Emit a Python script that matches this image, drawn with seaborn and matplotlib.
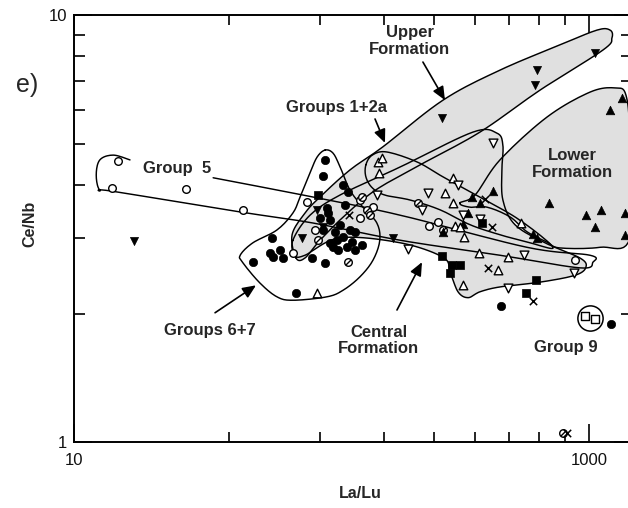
import numpy as np
import matplotlib
matplotlib.use("Agg")
import matplotlib.pyplot as plt
import seaborn as sns
from matplotlib.patches import Polygon
from matplotlib.markers import MarkerStyle
from matplotlib.transforms import Affine2D
from matplotlib.ticker import FixedLocator, FixedFormatter, NullFormatter

# ---------------- data (La/Lu, Ce/Nb) ----------------
fc_lalu = [94.4, 92.7, 110.8, 115.9, 58.7, 49.5, 57.7, 63.1, 64.8, 59.3, 84.0, 94.4, 72.8,
           98.6, 105.0, 110.8, 118.0, 114.8, 123.4, 101.4, 96.0, 90.2, 98.6, 123.4, 92.7,
           107.9, 105.9, 120.2, 103.2, 112.7, 96.9, 131.3, 455, 1217]
fc_cenb = [4.58, 4.20, 4.00, 3.85, 3.01, 2.64, 2.77, 2.82, 2.70, 2.71, 2.70, 2.63, 2.24,
           2.93, 2.97, 3.02, 3.14, 2.86, 2.82, 2.86, 3.53, 3.35, 3.31, 3.11, 3.14,
           3.23, 2.82, 2.94, 3.11, 3.59, 3.44, 2.89, 2.08, 1.89]

oc_lalu = [14.8, 14.05, 27.2, 45.3, 80.3, 70.8, 129.0, 144.9, 129.0, 259.2, 239.1, 883, 86.3]
oc_cenb = [4.55, 3.94, 3.92, 3.50, 3.65, 2.77, 3.69, 3.55, 3.35, 3.28, 3.21, 2.67, 3.14]

sc_lalu = [88.6, 115.9, 131.3, 137.3, 141.0, 216.8, 271.0, 792]
sc_cenb = [2.97, 2.64, 3.75, 3.50, 3.40, 3.63, 3.14, 1.05]

ftu_lalu = [351.4, 423.8, 377.3, 271.0, 324.1, 605.6, 627.8, 699, 973, 1055, 1114, 1380, 1380,
            1207, 1342, 338.7]
ftu_cenb = [3.75, 3.87, 3.63, 3.11, 3.24, 3.07, 3.01, 3.63, 3.40, 3.19, 3.50, 3.06, 3.44,
            5.99, 6.39, 3.44]

otu_lalu = [151.4, 157.0, 152.8, 296.4, 275.8, 296.4, 301.9, 327.0, 373.9, 484.4, 443.2, 324.1,
            544.3, 87.9, 315.5]
otu_cenb = [4.53, 4.63, 4.27, 4.16, 3.83, 3.63, 3.21, 3.02, 2.77, 2.71, 2.53, 2.33,
            3.26, 2.24, 3.19]

ftd_lalu = [1055, 627.8, 616.6, 268.6, 17.1, 87.9, 76.8, 173.3, 92.7]
ftd_cenb = [8.15, 7.43, 6.86, 5.74, 2.96, 3.50, 3.01, 3.01, 3.19]

otd_lalu = [423.8, 237.0, 309.8, 150.3, 224.6, 198.2, 559.3, 484.4, 875, 377.3, 324.1]
otd_cenb = [5.02, 3.83, 4.00, 3.79, 3.50, 2.83, 2.74, 2.30, 2.49, 3.33, 3.40]

fs_lalu = [88.6, 384.2, 268.6, 293.8, 315.5, 288.6, 622.2, 569.3]
fs_cenb = [3.79, 3.26, 2.73, 2.60, 2.60, 2.49, 2.40, 2.24]

os_lalu = [965, 1055]
os_cenb = [1.98, 1.94]

x_lalu = [116.9, 394.5, 420.1, 405.4, 605.6, 822]
x_cenb = [3.40, 3.71, 3.19, 2.56, 2.14, 1.05]

group9_ring = (1009, 1.95)

# field outlines (La/Lu, Ce/Nb)
upper_formation = [(72.8, 2.70), (70.3, 3.06), (78.9, 3.44), (90.2, 3.75), (118, 4.34), (158, 4.91),
                   (271, 6.32), (451, 7.43), (771, 8.51), (1075, 9.22), (1207, 9.22), (1228, 8.84),
                   (1133, 8.28), (645, 6.67), (377, 5.32), (221, 4.46), (148, 3.89), (113, 3.40),
                   (90.2, 2.97), (78.9, 2.70)]
central_formation = [(70.8, 2.97), (82.5, 3.40), (107.9, 3.79), (185, 4.41), (354, 5.32), (439, 5.29),
                     (463, 4.96), (459, 4.34), (463, 3.69), (516, 3.23), (675, 2.93), (922, 2.70),
                     (973, 2.57), (883, 2.46), (645, 2.37), (451, 2.31), (377, 2.25), (339, 2.18),
                     (310, 2.25), (289, 2.50), (271, 2.71), (185, 2.93), (108, 3.01), (78.9, 2.74),
                     (72.1, 2.74)]
lower_formation = [(315, 3.63), (361, 3.79), (451, 4.58), (687, 5.77), (1009, 6.60), (1262, 6.75),
                   (1392, 6.49), (1443, 5.10), (1443, 3.01), (1104, 2.86), (771, 2.85), (687, 2.94),
                   (574, 3.11), (493, 3.37), (402, 3.55), (345, 3.55)]
groups_1_2a = [(136, 4.46), (144, 4.70), (164, 4.78), (215, 4.53), (271, 4.18), (377, 3.75),
               (539, 3.31), (725, 2.86), (590, 2.93), (451, 3.06), (345, 3.23), (264, 3.50),
               (202, 3.69), (161, 3.79), (144, 3.94), (136, 4.18)]
groups_6_7 = [(94.4, 4.83), (101.4, 4.75), (108, 4.41), (118, 3.89), (132.5, 3.55), (150, 3.26),
              (154, 2.97), (145, 2.67), (129, 2.44), (111, 2.27), (96, 2.19), (70.8, 2.15),
              (61.4, 2.19), (52.7, 2.36), (45.3, 2.63), (44.2, 2.74), (49.5, 2.93), (61.4, 3.14),
              (70.8, 3.44), (75.5, 3.75), (82.5, 4.27), (87.9, 4.65)]
group_5 = [(16.5, 4.58), (14.2, 4.70), (12.6, 4.58), (12.2, 4.22), (12.6, 3.89), (14.05, 3.87),
           (44.2, 3.46), (84.7, 3.26), (185, 2.97), (451, 2.74), (922, 2.56), (1036, 2.64),
           (1009, 2.74), (574, 2.86), (185, 3.40), (84.7, 3.75), (34.7, 4.16)]

# labels: (text, La/Lu, Ce/Nb)
labels = [("Upper\nFormation", 201.6, 8.69), ("Groups 1+2a", 105, 6.09), ("Group  5", 25.1, 4.37),
          ("Lower\nFormation", 859, 4.48), ("Groups 6+7", 33.7, 1.83),
          ("Central\nFormation", 152.8, 1.73), ("Group 9", 814, 1.67)]
# arrows: (tail, head)
arrows = [((226.5, 7.76), (275.8, 6.32)), ((147.6, 5.71), (161.3, 5.02)),
          ((35.3, 2.01), (50.9, 2.33)), ((179.6, 2.04), (224.6, 2.64))]

x_major = [10, 1000]
x_major_labels = ["10", "1000"]
x_minor = [40, 90, 160, 250, 360, 490, 640, 810]
y_major = [1, 10]
y_major_labels = ["1", "10"]
y_minor = [2, 3, 4, 5, 6, 7, 8, 9]

# ---------------- drawing ----------------
sns.set_style("ticks")
plt.rcParams['font.family'] = ['Liberation Sans', 'DejaVu Sans']

W, H = 628, 508
fig = plt.figure(figsize=(W / 100, H / 100), dpi=100)
ax = fig.add_axes([74 / W, (H - 442.3) / H, (632 - 74) / W, (442.3 - 15) / H])
ax.set_xscale('log')
ax.set_yscale('log')
ax.set_xlim(10, 10 ** (1 + 2 * (632 - 74) / 515))
ax.set_ylim(1, 10)


def smooth(pts, closed=True, n=10):
    P = np.log10(np.asarray(pts, float))
    if closed:
        P = np.vstack([P[-1], P, P[0], P[1]])
    else:
        P = np.vstack([P[0], P, P[-1]])
    out = []
    for i in range(1, len(P) - 2):
        p0, p1, p2, p3 = P[i - 1], P[i], P[i + 1], P[i + 2]
        for t in np.linspace(0, 1, n, endpoint=False):
            t2, t3 = t * t, t * t * t
            out.append(0.5 * (2 * p1 + (-p0 + p2) * t + (2 * p0 - 5 * p1 + 4 * p2 - p3) * t2
                              + (-p0 + 3 * p1 - 3 * p2 + p3) * t3))
    if closed:
        out.append(out[0])
    else:
        out.append(P[-2])
    return 10 ** np.array(out)


gray = '#e0e0e0'
for f in [upper_formation, central_formation, lower_formation]:
    ax.add_patch(Polygon(smooth(f), closed=True, facecolor=gray, edgecolor='none', zorder=1))
for f in [upper_formation, central_formation, lower_formation, groups_1_2a, groups_6_7]:
    s = smooth(f)
    ax.plot(s[:, 0], s[:, 1], color='black', lw=1.05, zorder=2, solid_joinstyle='round')
s5 = smooth(group_5, closed=False)
ax.plot(s5[:, 0], s5[:, 1], color='black', lw=1.05, zorder=2)

# group 9 ring
sns.scatterplot(x=[group9_ring[0]], y=[group9_ring[1]], marker='o', color='white',
                edgecolor='black', s=330, linewidth=1.1, ax=ax, zorder=3)

common = dict(ax=ax, zorder=5, legend=False)
sns.scatterplot(x=fc_lalu, y=fc_cenb, marker='o', color='black', edgecolor='black',
                s=36, linewidth=0.5, **common)
sns.scatterplot(x=oc_lalu, y=oc_cenb, marker='o', color='white', edgecolor='black',
                s=30, linewidth=1.0, **common)
sns.scatterplot(x=sc_lalu, y=sc_cenb, marker='o', color='white', edgecolor='black',
                s=30, linewidth=1.0, **common)
slash = MarkerStyle('|', transform=Affine2D().rotate_deg(-45))
sns.scatterplot(x=sc_lalu, y=sc_cenb, marker=slash, color='black', s=30, linewidth=1.0,
                ax=ax, zorder=6, legend=False)
sns.scatterplot(x=ftu_lalu, y=ftu_cenb, marker='^', color='black', edgecolor='black',
                s=38, linewidth=0.5, **common)
sns.scatterplot(x=otu_lalu, y=otu_cenb, marker='^', color='white', edgecolor='black',
                s=38, linewidth=1.0, **common)
sns.scatterplot(x=ftd_lalu, y=ftd_cenb, marker='v', color='black', edgecolor='black',
                s=34, linewidth=0.5, **common)
sns.scatterplot(x=otd_lalu, y=otd_cenb, marker='v', color='white', edgecolor='black',
                s=40, linewidth=1.0, **common)
sns.scatterplot(x=fs_lalu, y=fs_cenb, marker='s', color='black', edgecolor='black',
                s=32, linewidth=0.5, **common)
sns.scatterplot(x=os_lalu, y=os_cenb, marker='s', color='white', edgecolor='black',
                s=30, linewidth=1.0, **common)
sns.scatterplot(x=x_lalu, y=x_cenb, marker='x', color='black', s=28, linewidth=1.1, **common)

# labels and arrows
for txt, lx, ly in labels:
    ax.text(lx, ly, txt, ha='center', va='center', fontsize=12, fontweight='bold',
            linespacing=1.15, zorder=7)
for tail, head in arrows:
    ax.annotate('', xy=head, xytext=tail,
                arrowprops=dict(arrowstyle='-|>,head_length=0.8,head_width=0.35',
                                color='black', lw=1.2, shrinkA=0, shrinkB=0), zorder=7)

# axes styling
ax.xaxis.set_major_locator(FixedLocator(x_major))
ax.xaxis.set_major_formatter(FixedFormatter(x_major_labels))
ax.xaxis.set_minor_locator(FixedLocator(x_minor))
ax.xaxis.set_minor_formatter(NullFormatter())
ax.yaxis.set_major_locator(FixedLocator(y_major))
ax.yaxis.set_major_formatter(FixedFormatter(y_major_labels))
ax.yaxis.set_minor_locator(FixedLocator(y_minor))
ax.yaxis.set_minor_formatter(NullFormatter())
ax.tick_params(which='both', direction='in', top=True, right=True, width=1.2, color='black',
               labelsize=12, labelcolor='#111111')
ax.tick_params(which='major', length=13)
ax.tick_params(axis='x', which='minor', length=7)
ax.tick_params(axis='y', which='minor', length=8)
ax.tick_params(axis='x', which='major', pad=8)
ax.tick_params(axis='y', which='major', pad=5)
for sp in ax.spines.values():
    sp.set_linewidth(1.4)
    sp.set_color('black')

ax.set_xlabel('La/Lu', fontsize=11.5, fontweight='bold', va='center')
ax.set_ylabel('Ce/Nb', fontsize=11.5, fontweight='bold', va='center')
ax.xaxis.set_label_coords((360 - 74) / 558, (442.3 - 494) / 427.3)
ax.yaxis.set_label_coords((30 - 74) / 558, (442.3 - 224) / 427.3)

fig.text(27 / W, 1 - 85 / H, 'e)', fontsize=18, ha='center', va='center')

fig.savefig('out.png', dpi=100)
